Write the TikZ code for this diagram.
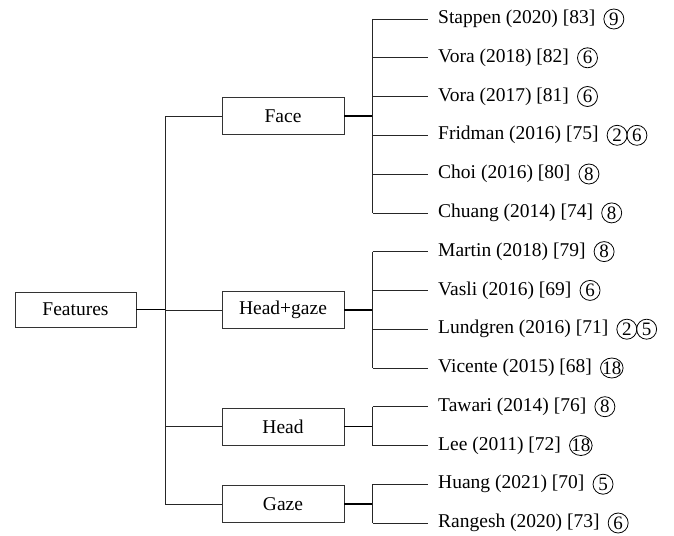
\documentclass[tikz,border=0pt]{standalone}
\usepackage{fontspec}
\setmainfont{Liberation Serif}
\usetikzlibrary{positioning}
\usetikzlibrary{shapes.geometric}

\tikzset{
  catbox/.style={draw=black!80, line width=0.9pt, minimum width=122pt, minimum height=37pt, inner sep=0pt, font=\fontsize{19.5}{22}\selectfont},
  paper/.style={anchor=west, inner sep=0pt, font=\fontsize{19.5}{22}\selectfont},
  tag/.style={ellipse, draw, line width=0.8pt, inner ysep=0pt, inner xsep=-1.5pt, minimum width=20pt, minimum height=20pt, font=\fontsize{19}{20}\selectfont},
  branch/.style={draw=black!85, line width=0.8pt},
  stem/.style={draw=black, line width=1.5pt},
}

\begin{document}
\begin{tikzpicture}[x=1pt, y=-1pt]
\useasboundingbox (0,0) rectangle (674,535);

\node[catbox, minimum width=121pt, minimum height=35pt] (features) at (75.5,309.5) {Features};
\node[catbox] (face) at (283,116) {Face};
\node[catbox] (hg) at (283,310) {Head+gaze};
\node[catbox] (head) at (283,426.5) {Head};
\node[catbox] (gaze) at (283,504) {Gaze};

\node[paper] (stappen) at (438,19) {Stappen (2020) [83]};
\node[paper] (vora18) at (438,57.8) {Vora (2018) [82]};
\node[paper] (vora17) at (438,96.5) {Vora (2017) [81]};
\node[paper] (fridman) at (438,135.3) {Fridman (2016) [75]};
\node[paper] (choi) at (438,174) {Choi (2016) [80]};
\node[paper] (chuang) at (438,212.9) {Chuang (2014) [74]};
\node[paper] (martin) at (438,251.6) {Martin (2018) [79]};
\node[paper] (vasli) at (438,290.4) {Vasli (2016) [69]};
\node[paper] (lundgren) at (438,329.2) {Lundgren (2016) [71]};
\node[paper] (vicente) at (438,368) {Vicente (2015) [68]};
\node[paper] (tawari) at (438,406.7) {Tawari (2014) [76]};
\node[paper] (lee) at (438,445.5) {Lee (2011) [72]};
\node[paper] (huang) at (438,484.2) {Huang (2021) [70]};
\node[paper] (rangesh) at (438,523) {Rangesh (2020) [73]};

\node[tag, right=8pt of stappen] (stappentag) {9};
\node[tag, right=8pt of vora18] (vora18tag) {6};
\node[tag, right=8pt of vora17] (vora17tag) {6};
\node[tag, right=8pt of fridman] (fridmantag) {2};
\node[tag, right=-1pt of fridmantag] (fridmantagb) {6};
\node[tag, right=8pt of choi] (choitag) {8};
\node[tag, right=8pt of chuang] (chuangtag) {8};
\node[tag, right=8pt of martin] (martintag) {8};
\node[tag, right=8pt of vasli] (vaslitag) {6};
\node[tag, right=8pt of lundgren] (lundgrentag) {2};
\node[tag, right=-1pt of lundgrentag] (lundgrentagb) {5};
\node[tag, right=8pt of vicente] (vicentetag) {18};
\node[tag, right=8pt of tawari] (tawaritag) {8};
\node[tag, right=8pt of lee] (leetag) {18};
\node[tag, right=8pt of huang] (huangtag) {5};
\node[tag, right=8pt of rangesh] (rangeshtag) {6};

\coordinate (root) at (165,309.5);
\coordinate (facebus) at (372.5,116);
\coordinate (hgbus) at (372.5,310);
\coordinate (headbus) at (372.5,426.5);
\coordinate (gazebus) at (372.5,504);

\draw[stem] (features.east) -- (root);
\draw[branch] (root |- face) -- (root |- gaze);
\draw[branch] (root |- face) -- (face.west);
\draw[branch] (root |- hg) -- (hg.west);
\draw[branch] (root |- head) -- (head.west);
\draw[branch] (root |- gaze) -- (gaze.west);

\draw[stem] (face.east) -- (facebus);
\draw[stem] (hg.east) -- (hgbus);
\draw[stem] (head.east) -- (headbus);
\draw[stem] (gaze.east) -- (gazebus);

\draw[branch] (facebus |- stappen) -- (facebus |- chuang);
\draw[branch] (hgbus |- martin) -- (hgbus |- vicente);
\draw[branch] (headbus |- tawari) -- (headbus |- lee);
\draw[branch] (gazebus |- huang) -- (gazebus |- rangesh);

\draw[branch] (facebus |- stappen) -- ([xshift=-10pt]stappen.west);
\draw[branch] (facebus |- vora18) -- ([xshift=-10pt]vora18.west);
\draw[branch] (facebus |- vora17) -- ([xshift=-10pt]vora17.west);
\draw[branch] (facebus |- fridman) -- ([xshift=-10pt]fridman.west);
\draw[branch] (facebus |- choi) -- ([xshift=-10pt]choi.west);
\draw[branch] (facebus |- chuang) -- ([xshift=-10pt]chuang.west);
\draw[branch] (hgbus |- martin) -- ([xshift=-10pt]martin.west);
\draw[branch] (hgbus |- vasli) -- ([xshift=-10pt]vasli.west);
\draw[branch] (hgbus |- lundgren) -- ([xshift=-10pt]lundgren.west);
\draw[branch] (hgbus |- vicente) -- ([xshift=-10pt]vicente.west);
\draw[branch] (headbus |- tawari) -- ([xshift=-10pt]tawari.west);
\draw[branch] (headbus |- lee) -- ([xshift=-10pt]lee.west);
\draw[branch] (gazebus |- huang) -- ([xshift=-10pt]huang.west);
\draw[branch] (gazebus |- rangesh) -- ([xshift=-10pt]rangesh.west);
\end{tikzpicture}
\end{document}
